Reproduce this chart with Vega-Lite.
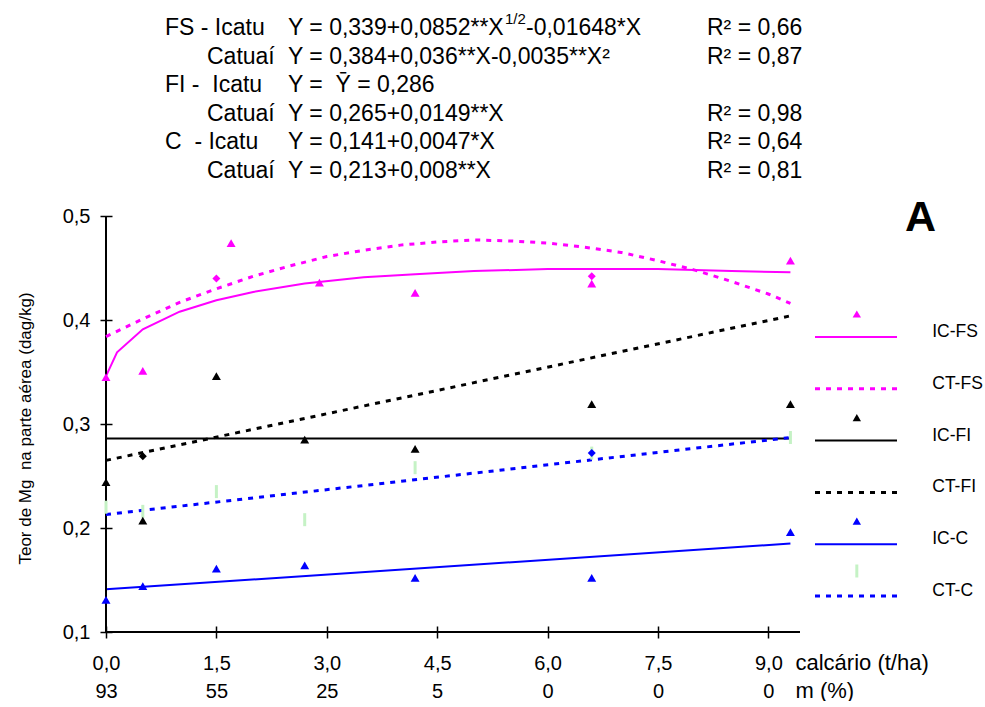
{
  "$schema": "https://vega.github.io/schema/vega-lite/v6.json",
  "padding": {"left": 16, "top": 0, "right": 0, "bottom": 0},
  "autosize": {"type": "pad"},
  "background": "white",
  "config": {"view": {"stroke": null}, "font": "Liberation Sans"},
  "datasets": {
    "equations": [
      {"row": 1, "col": 1, "kind": "main", "text": "FS - Icatu"},
      {"row": 1, "col": 3, "kind": "main", "text": "Y = 0,339+0,0852**X"},
      {"row": 1, "col": 4, "kind": "sup", "text": "1/2"},
      {"row": 1, "col": 5, "kind": "main", "text": "-0,01648*X"},
      {"row": 1, "col": 6, "kind": "main", "text": "R² = 0,66"},
      {"row": 2, "col": 2, "kind": "main", "text": "Catuaí"},
      {"row": 2, "col": 3, "kind": "main", "text": "Y = 0,384+0,036**X-0,0035**X²"},
      {"row": 2, "col": 6, "kind": "main", "text": "R² = 0,87"},
      {"row": 3, "col": 1, "kind": "main", "text": "FI - \u00a0Icatu"},
      {"row": 3, "col": 3, "kind": "main", "text": "Y = \u00a0Ȳ = 0,286"},
      {"row": 4, "col": 2, "kind": "main", "text": "Catuaí"},
      {"row": 4, "col": 3, "kind": "main", "text": "Y = 0,265+0,0149**X"},
      {"row": 4, "col": 6, "kind": "main", "text": "R² = 0,98"},
      {"row": 5, "col": 1, "kind": "main", "text": "C \u00a0- Icatu"},
      {"row": 5, "col": 3, "kind": "main", "text": "Y = 0,141+0,0047*X"},
      {"row": 5, "col": 6, "kind": "main", "text": "R² = 0,64"},
      {"row": 6, "col": 2, "kind": "main", "text": "Catuaí"},
      {"row": 6, "col": 3, "kind": "main", "text": "Y = 0,213+0,008**X"},
      {"row": 6, "col": 6, "kind": "main", "text": "R² = 0,81"}
    ],
    "fits": [
      {"series": "IC-FS", "x": 0, "y": 0.346},
      {"series": "IC-FS", "x": 0.15, "y": 0.369},
      {"series": "IC-FS", "x": 0.5, "y": 0.391},
      {"series": "IC-FS", "x": 1, "y": 0.408},
      {"series": "IC-FS", "x": 1.5, "y": 0.419},
      {"series": "IC-FS", "x": 2, "y": 0.427},
      {"series": "IC-FS", "x": 2.7, "y": 0.435},
      {"series": "IC-FS", "x": 3.5, "y": 0.441},
      {"series": "IC-FS", "x": 4.2, "y": 0.444},
      {"series": "IC-FS", "x": 5, "y": 0.447},
      {"series": "IC-FS", "x": 6, "y": 0.449},
      {"series": "IC-FS", "x": 6.6, "y": 0.449},
      {"series": "IC-FS", "x": 7.5, "y": 0.449},
      {"series": "IC-FS", "x": 8.5, "y": 0.447},
      {"series": "IC-FS", "x": 9.3, "y": 0.446},
      {"series": "CT-FS", "x": 0, "y": 0.384},
      {"series": "CT-FS", "x": 0.5, "y": 0.401},
      {"series": "CT-FS", "x": 1, "y": 0.417},
      {"series": "CT-FS", "x": 1.5, "y": 0.430},
      {"series": "CT-FS", "x": 2, "y": 0.442},
      {"series": "CT-FS", "x": 2.5, "y": 0.452},
      {"series": "CT-FS", "x": 3, "y": 0.461},
      {"series": "CT-FS", "x": 3.5, "y": 0.467},
      {"series": "CT-FS", "x": 4, "y": 0.472},
      {"series": "CT-FS", "x": 4.5, "y": 0.475},
      {"series": "CT-FS", "x": 5, "y": 0.477},
      {"series": "CT-FS", "x": 5.5, "y": 0.476},
      {"series": "CT-FS", "x": 6, "y": 0.474},
      {"series": "CT-FS", "x": 6.5, "y": 0.470},
      {"series": "CT-FS", "x": 7, "y": 0.465},
      {"series": "CT-FS", "x": 7.5, "y": 0.457},
      {"series": "CT-FS", "x": 8, "y": 0.448},
      {"series": "CT-FS", "x": 8.5, "y": 0.437},
      {"series": "CT-FS", "x": 9, "y": 0.425},
      {"series": "CT-FS", "x": 9.3, "y": 0.416},
      {"series": "IC-FI", "x": 0, "y": 0.286},
      {"series": "IC-FI", "x": 9.3, "y": 0.286},
      {"series": "CT-FI", "x": 0, "y": 0.265},
      {"series": "CT-FI", "x": 9.3, "y": 0.404},
      {"series": "IC-C", "x": 0, "y": 0.141},
      {"series": "IC-C", "x": 9.3, "y": 0.185},
      {"series": "CT-C", "x": 0, "y": 0.213},
      {"series": "CT-C", "x": 9.3, "y": 0.287}
    ],
    "obs": [
      {"series": "IC-FS", "x": 0, "y": 0.345},
      {"series": "IC-FS", "x": 0.5, "y": 0.351},
      {"series": "IC-FS", "x": 1.7, "y": 0.474},
      {"series": "IC-FS", "x": 2.9, "y": 0.436},
      {"series": "IC-FS", "x": 4.2, "y": 0.426},
      {"series": "IC-FS", "x": 6.6, "y": 0.435},
      {"series": "IC-FS", "x": 9.3, "y": 0.457},
      {"series": "IC-FI", "x": 0, "y": 0.244},
      {"series": "IC-FI", "x": 0.5, "y": 0.207},
      {"series": "IC-FI", "x": 1.5, "y": 0.346},
      {"series": "IC-FI", "x": 2.7, "y": 0.285},
      {"series": "IC-FI", "x": 4.2, "y": 0.276},
      {"series": "IC-FI", "x": 6.6, "y": 0.319},
      {"series": "IC-FI", "x": 9.3, "y": 0.319},
      {"series": "IC-C", "x": 0, "y": 0.131},
      {"series": "IC-C", "x": 0.5, "y": 0.144},
      {"series": "IC-C", "x": 1.5, "y": 0.161},
      {"series": "IC-C", "x": 2.7, "y": 0.164},
      {"series": "IC-C", "x": 4.2, "y": 0.152},
      {"series": "IC-C", "x": 6.6, "y": 0.152},
      {"series": "IC-C", "x": 9.3, "y": 0.196},
      {"series": "CT-C", "x": 0, "y": 0.220},
      {"series": "CT-C", "x": 0.5, "y": 0.216},
      {"series": "CT-C", "x": 1.5, "y": 0.235},
      {"series": "CT-C", "x": 2.7, "y": 0.208},
      {"series": "CT-C", "x": 4.2, "y": 0.258},
      {"series": "CT-C", "x": 6.6, "y": 0.272},
      {"series": "CT-C", "x": 9.3, "y": 0.287}
    ],
    "diamonds": [
      {"series": "CT-FS", "x": 1.5, "y": 0.440},
      {"series": "CT-FS", "x": 6.6, "y": 0.442},
      {"series": "CT-FI", "x": 0.5, "y": 0.269},
      {"series": "CT-C", "x": 6.6, "y": 0.272}
    ],
    "legend": [
      {"series": "IC-FS"}, {"series": "CT-FS"}, {"series": "IC-FI"},
      {"series": "CT-FI"}, {"series": "IC-C"}, {"series": "CT-C"}
    ],
    "frame": [{"name": "axis"}]
  },
  "spacing": 0,
  "bounds": "flush",
  "vconcat": [
    {
      "width": 694,
      "height": 216,
      "data": {"name": "equations"},
      "encoding": {
        "x": {"field": "col", "type": "quantitative", "scale": {"domain": [1, 2, 3, 4, 5, 6], "range": [59, 101, 182, 399, 420, 601], "nice": false, "zero": false}, "axis": null},
        "y": {"field": "row", "type": "quantitative", "scale": {"domain": [1, 6], "range": [28, 170.5], "nice": false, "zero": false}, "axis": null},
        "text": {"field": "text"}
      },
      "layer": [
        {"transform": [{"filter": "datum.kind == 'main'"}], "mark": {"type": "text", "align": "left", "baseline": "middle", "fontSize": 23, "color": "black"}},
        {"transform": [{"filter": "datum.kind == 'sup'"}], "mark": {"type": "text", "align": "left", "baseline": "middle", "fontSize": 15, "dy": -9, "color": "black"}}
      ]
    },
    {
      "spacing": 10,
      "bounds": "flush",
      "hconcat": [
        {
          "width": 694,
          "height": 416,
          "layer": [
            {"data": {"name": "fits"}, "transform": [{"filter": "indexof(datum.series, 'IC') == 0"}], "mark": {"type": "line", "strokeWidth": 2},
              "encoding": {
                "x": {"field": "x", "type": "quantitative", "scale": {"domain": [0, 9.43], "nice": false, "zero": false},
                  "axis": {"values": [0, 1.5, 3, 4.5, 6, 7.5, 9], "offset": -6, "tickSize": 12, "tickWidth": 1.5, "tickColor": "black", "domain": false, "grid": false,
                    "labelExpr": "[replace(format(datum.value, '.1f'), '.', ','), datum.value == 0 ? '93' : datum.value == 1.5 ? '55' : datum.value == 3 ? '25' : datum.value == 4.5 ? '5' : '0']",
                    "labelFontSize": 20, "labelColor": "black", "labelBaseline": "alphabetic", "labelPadding": 31, "labelLineHeight": 28, "labelFlush": false, "labelOverlap": false, "labelBound": false,
                    "title": ["calcário (t/ha)", "m (%)"], "titleX": 689, "titleY": 43, "titleAlign": "left", "titleBaseline": "alphabetic", "titleFontSize": 22, "titleFontWeight": "normal", "titleLineHeight": 28, "titleColor": "black"}},
                "y": {"field": "y", "type": "quantitative", "scale": {"domain": [0.1, 0.5], "nice": false, "zero": false},
                  "axis": {"values": [0.1, 0.2, 0.3, 0.4, 0.5], "offset": -6, "tickSize": 12, "tickWidth": 1.5, "tickColor": "black", "domain": false, "grid": false,
                    "labelExpr": "replace(format(datum.value, '.1f'), '.', ',')", "labelFontSize": 20, "labelColor": "black", "labelPadding": 10, "labelFlush": false, "labelOverlap": false,
                    "title": "Teor de Mg \u00a0na parte aérea (dag/kg)", "titleX": -87, "titleY": 212, "titleAngle": -90, "titleAlign": "center", "titleBaseline": "middle", "titleFontSize": 17, "titleFontWeight": "normal", "titleColor": "black"}},
                "color": {"field": "series", "type": "nominal", "scale": {"domain": ["IC-FS", "CT-FS", "IC-FI", "CT-FI", "IC-C", "CT-C"], "range": ["#ff00ff", "#ff00ff", "#000000", "#000000", "#0000ff", "#0000ff"]}, "legend": null}}},
            {"data": {"name": "frame"}, "mark": {"type": "rule", "color": "black", "strokeWidth": 2}, "encoding": {"y": {"datum": 0.1, "type": "quantitative"}}},
            {"data": {"name": "frame"}, "mark": {"type": "rule", "color": "black", "strokeWidth": 2}, "encoding": {"x": {"datum": 0, "type": "quantitative"}}},
            {"data": {"name": "fits"}, "transform": [{"filter": "indexof(datum.series, 'CT') == 0"}], "mark": {"type": "line", "strokeWidth": 3, "strokeDash": [5, 6]},
              "encoding": {"x": {"field": "x", "type": "quantitative"}, "y": {"field": "y", "type": "quantitative"}, "color": {"field": "series", "type": "nominal", "legend": null}}},
            {"data": {"name": "obs"}, "transform": [{"filter": "datum.series == 'CT-C'"}], "mark": {"type": "point", "shape": "M0,-1L0,1", "size": 169, "filled": false, "stroke": "#c5f2c5", "strokeWidth": 3, "opacity": 1},
              "encoding": {"x": {"field": "x", "type": "quantitative"}, "y": {"field": "y", "type": "quantitative"}}},
            {"data": {"name": "diamonds"}, "mark": {"type": "point", "shape": "diamond", "size": 64, "filled": true, "opacity": 1},
              "encoding": {"x": {"field": "x", "type": "quantitative"}, "y": {"field": "y", "type": "quantitative"}, "color": {"field": "series", "type": "nominal", "legend": null}}},
            {"data": {"name": "obs"}, "transform": [{"filter": "indexof(datum.series, 'IC') == 0"}], "mark": {"type": "point", "shape": "triangle-up", "size": 80, "filled": true, "opacity": 1},
              "encoding": {"x": {"field": "x", "type": "quantitative"}, "y": {"field": "y", "type": "quantitative"}, "color": {"field": "series", "type": "nominal", "legend": null}}}
          ]
        },
        {
          "width": 175,
          "height": 416,
          "title": {"text": "A", "fontSize": 43, "fontWeight": "bold", "anchor": "start", "frame": "group", "dx": 95, "dy": 58, "offset": 0, "baseline": "alphabetic", "color": "black"},
          "data": {"name": "legend"},
          "encoding": {
            "y": {"field": "series", "type": "nominal", "sort": null, "scale": {"type": "point", "domain": ["IC-FS", "CT-FS", "IC-FI", "CT-FI", "IC-C", "CT-C"], "range": [121, 380], "padding": 0}, "axis": null}
          },
          "layer": [
            {"transform": [{"filter": "indexof(datum.series, 'IC') == 0"}], "mark": {"type": "rule", "strokeWidth": 2},
              "encoding": {"x": {"datum": 0, "type": "quantitative", "scale": {"domain": [0, 1], "range": [5, 87], "nice": false, "zero": false}, "axis": null}, "x2": {"datum": 1},
                "color": {"field": "series", "type": "nominal", "scale": {"domain": ["IC-FS", "CT-FS", "IC-FI", "CT-FI", "IC-C", "CT-C"], "range": ["#ff00ff", "#ff00ff", "#000000", "#000000", "#0000ff", "#0000ff"]}, "legend": null}}},
            {"transform": [{"filter": "indexof(datum.series, 'CT') == 0"}], "mark": {"type": "rule", "strokeWidth": 3, "strokeDash": [5, 6]},
              "encoding": {"x": {"datum": 0, "type": "quantitative", "axis": null}, "x2": {"datum": 1},
                "color": {"field": "series", "type": "nominal", "legend": null}}},
            {"transform": [{"filter": "indexof(datum.series, 'IC') == 0"}], "mark": {"type": "point", "shape": "triangle-up", "size": 70, "filled": true, "opacity": 1, "yOffset": -23},
              "encoding": {"x": {"datum": 0.51, "type": "quantitative", "axis": null}, "color": {"field": "series", "type": "nominal", "legend": null}}},
            {"transform": [{"filter": "datum.series == 'CT-C'"}], "mark": {"type": "point", "shape": "M0,-1L0,1", "size": 169, "filled": false, "stroke": "#c5f2c5", "strokeWidth": 3, "opacity": 1, "yOffset": -25},
              "encoding": {"x": {"datum": 0.51, "type": "quantitative", "axis": null}}},
            {"mark": {"type": "text", "align": "left", "baseline": "middle", "fontSize": 17.5, "dy": -5, "color": "black"},
              "encoding": {"x": {"datum": 1.43, "type": "quantitative", "axis": null}, "text": {"field": "series"}}}
          ]
        }
      ]
    }
  ]
}
